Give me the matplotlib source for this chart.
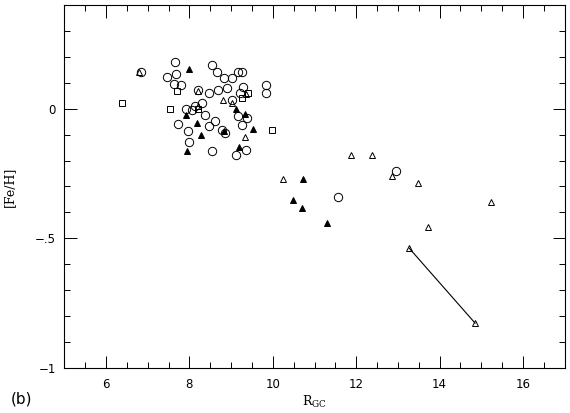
import matplotlib
matplotlib.use("Agg")
import matplotlib.pyplot as plt
from matplotlib.ticker import MultipleLocator, FixedLocator

# open circles
circ_x = [6.84, 7.65, 7.68, 7.46, 7.63, 7.79, 8.53, 8.65, 8.84, 9.01, 9.17, 9.25,
          9.83, 9.83, 9.29, 8.89, 8.69, 8.47, 8.21, 8.30, 9.21, 9.01, 8.13, 7.92,
          7.73, 7.97, 8.00, 8.06, 8.37, 8.47, 8.61, 8.85, 8.77, 9.17, 9.25, 9.38,
          8.55, 9.11, 9.35, 11.57, 12.95]
circ_y = [0.140, 0.179, 0.135, 0.122, 0.097, 0.093, 0.170, 0.140, 0.119, 0.119, 0.140, 0.140,
          0.093, 0.061, 0.084, 0.080, 0.071, 0.061, 0.071, 0.022, 0.061, 0.035, 0.009, 0.000,
          -0.059, -0.085, -0.129, -0.004, -0.023, -0.068, -0.049, -0.094, -0.081, -0.030, -0.062, -0.035,
          -0.162, -0.180, -0.158, -0.341, -0.242]

# open triangles
otri_x = [6.78, 8.21, 8.81, 9.03, 9.33, 8.21, 9.35, 10.25, 11.87, 12.37, 12.85, 13.49,
          15.23, 13.71, 13.27, 14.85]
otri_y = [0.140, 0.069, 0.032, 0.023, -0.110, 0.009, 0.058, -0.270, -0.178, -0.178, -0.259, -0.287,
          -0.358, -0.458, -0.538, -0.827]

# filled triangles
ftri_x = [7.99, 9.12, 8.18, 7.92, 8.28, 8.84, 9.53, 7.94, 9.20, 10.72, 10.48, 10.69, 11.29, 9.33]
ftri_y = [0.153, -0.001, -0.055, -0.023, -0.100, -0.085, -0.078, -0.165, -0.149, -0.270, -0.351,
          -0.383, -0.439, -0.019]

# open squares
sq_x = [6.38, 7.53, 7.71, 9.41, 9.27, 9.97, 8.21]
sq_y = [0.023, 0.000, 0.069, 0.061, 0.040, -0.081, -0.001]

# connected pair
pair_x = [13.27, 14.85]
pair_y = [-0.538, -0.827]

fig = plt.figure(figsize=(5.7, 4.13), dpi=100)
ax = fig.add_axes([0.1128, 0.109, 0.878, 0.879])

lw = 0.7
ax.plot(pair_x, pair_y, color='black', lw=0.8, zorder=1)
ax.plot(circ_x, circ_y, 'o', ms=6, mfc='none', mec='black', mew=lw)
ax.plot(otri_x, otri_y, '^', ms=5, mfc='none', mec='black', mew=lw)
ax.plot(ftri_x, ftri_y, '^', ms=5, mfc='black', mec='black', mew=lw)
ax.plot(sq_x, sq_y, 's', ms=4.3, mfc='none', mec='black', mew=lw)

ax.set_xlim(5, 17)
ax.set_ylim(-1, 0.4)

ax.xaxis.set_major_locator(FixedLocator([6, 8, 10, 12, 14, 16]))
ax.xaxis.set_minor_locator(MultipleLocator(0.5))
ax.yaxis.set_major_locator(FixedLocator([-1, -0.5, 0]))
ax.yaxis.set_minor_locator(MultipleLocator(0.1))
ax.set_yticklabels(['\u22121', '\u2212.5', '0'])

ax.tick_params(which='both', direction='in', top=True, right=True, width=0.7,
               labelsize=8.5, colors='black')
ax.tick_params(which='major', length=9)
ax.tick_params(which='minor', length=4.5)
ax.tick_params(axis='x', pad=7)
ax.tick_params(axis='y', pad=6)
for s in ax.spines.values():
    s.set_linewidth(0.8)

ax.set_xlabel(r'R$_{\mathregular{GC}}$', family='DejaVu Serif', fontsize=9, labelpad=2)
ax.set_ylabel('[Fe/H]', family='DejaVu Serif', fontsize=9, labelpad=14)
fig.text(0.018, 0.022, '(b)', fontsize=11)

fig.savefig('out.png', dpi=100)
